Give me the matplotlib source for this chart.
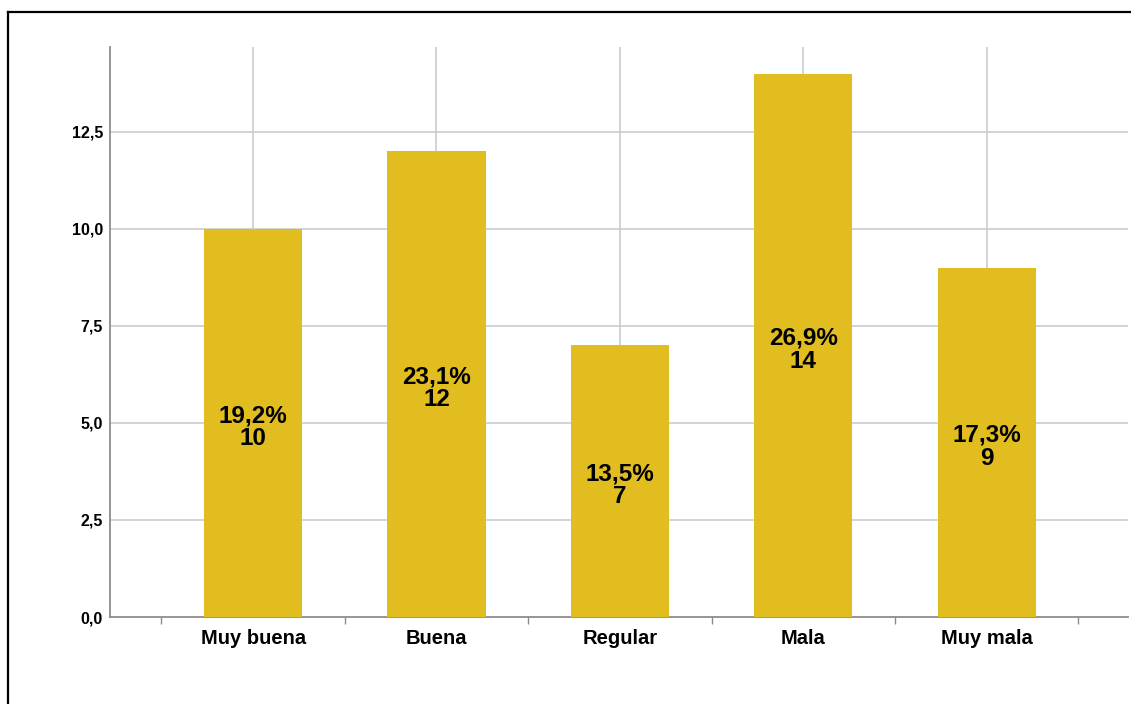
import matplotlib
matplotlib.use('Agg')
import matplotlib.pyplot as plt
from matplotlib.lines import Line2D
import numpy as np

plt.rcParams['font.family'] = ['Liberation Sans', 'DejaVu Sans']

# counts per rating
categories = ['Muy buena', 'Buena', 'Regular', 'Mala', 'Muy mala']
counts = [10, 12, 7, 14, 9]
yticks = [0.0, 2.5, 5.0, 7.5, 10.0, 12.5]

bar_color = '#E1BD1F'
grid_color = '#CCCCCC'
axis_color = '#8C8C8C'

W, H = 1131, 704
fig = plt.figure(figsize=(W / 100, H / 100), dpi=100)
ax = fig.add_axes([110 / W, (H - 617) / H, (1128 - 110) / W, (617 - 47) / H])

x = np.arange(len(categories))
total = sum(counts)
ax.bar(x, counts, width=0.535, color=bar_color, zorder=3)

for xi, c in zip(x, counts):
    pct = '{:.1f}%'.format(100.0 * c / total).replace('.', ',')
    ax.annotate(pct + '\n' + str(c), (xi, c / 2), xytext=(0, -3),
                textcoords='offset points', ha='center', va='center',
                fontsize=17.5, fontweight='bold', linespacing=1.0, zorder=4)

ax.set_xlim(-0.78, len(categories) - 0.23)
ax.set_ylim(0, 14.69)

# gridlines: horizontal at y ticks, vertical at category centres
for y in yticks[1:]:
    ax.axhline(y, color=grid_color, lw=1.2, zorder=1)
for xi in x:
    ax.axvline(xi, color=grid_color, lw=1.2, zorder=1)

ax.set_yticks(yticks)
ax.set_yticklabels(['{:.1f}'.format(v).replace('.', ',') for v in yticks],
                   fontsize=11.5, fontweight='bold')
ax.tick_params(axis='y', length=0, pad=5)

# category names sit between minor ticks at the boundaries
ax.set_xticks(x)
ax.set_xticklabels(categories, fontsize=14.5, fontweight='bold')
ax.tick_params(axis='x', which='major', length=0, pad=9)
ax.set_xticks(np.arange(-0.5, len(categories)), minor=True)
ax.tick_params(axis='x', which='minor', length=5, color=axis_color, width=1)

for side in ['top', 'right']:
    ax.spines[side].set_visible(False)
for side in ['left', 'bottom']:
    ax.spines[side].set_color(axis_color)
    ax.spines[side].set_linewidth(1.3)

# outer frame (left and top edges)
fig.add_artist(Line2D([8 / W, 8 / W], [0, 1 - 12 / H], transform=fig.transFigure,
                      color='black', lw=1.6))
fig.add_artist(Line2D([8 / W, 1], [1 - 12 / H, 1 - 12 / H], transform=fig.transFigure,
                      color='black', lw=1.6))

fig.savefig('out.png', dpi=100)
